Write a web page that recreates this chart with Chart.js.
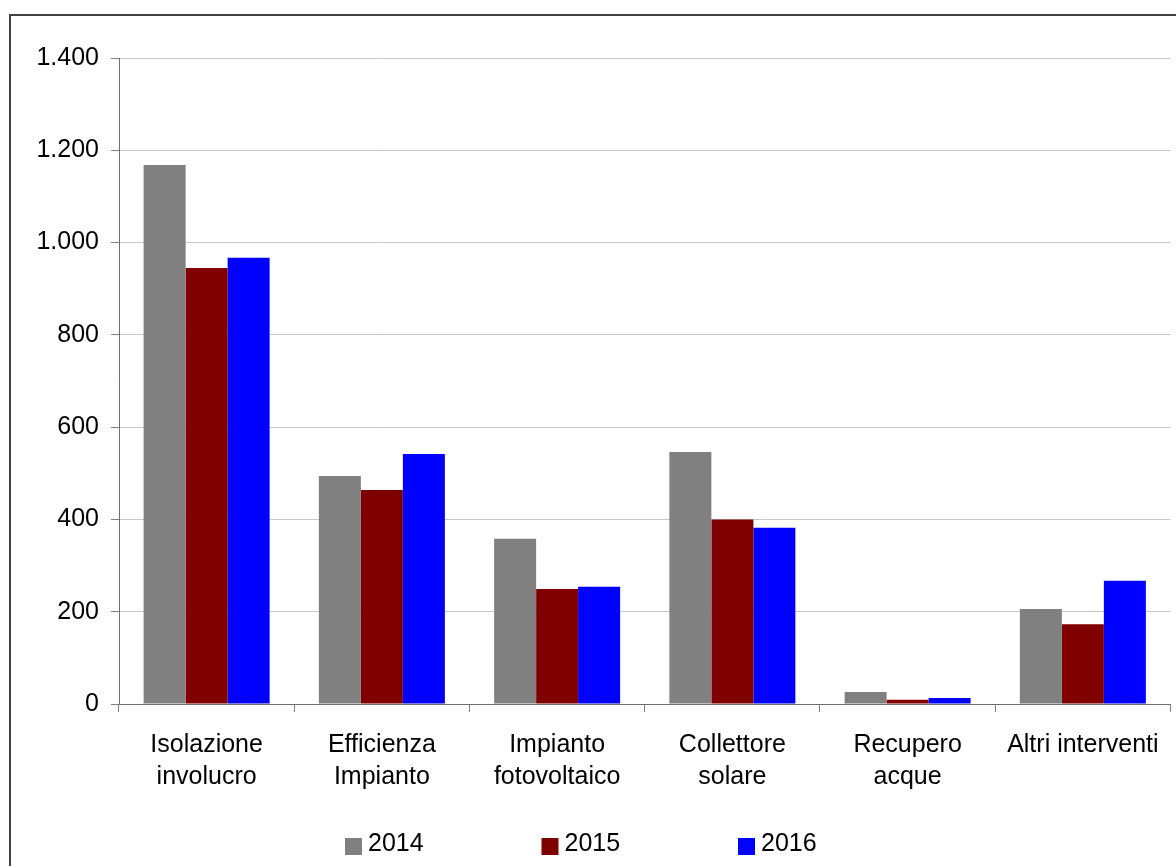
<!DOCTYPE html>
<html>
<head>
<meta charset="utf-8">
<script src="https://cdn.jsdelivr.net/npm/chart.js@4/dist/chart.umd.min.js"></script>
<style>
  html, body { margin: 0; padding: 0; background: #fff; }
  #wrap { width: 1176px; height: 866px; position: relative; }
</style>
</head>
<body>
<div id="wrap"><canvas id="chart" width="1176" height="866"></canvas></div>
<script>
// Categories (multi-line labels) and yearly series
const categories = [
  ['Isolazione', 'involucro'],
  ['Efficienza', 'Impianto'],
  ['Impianto', 'fotovoltaico'],
  ['Collettore', 'solare'],
  ['Recupero', 'acque'],
  ['Altri interventi']
];
const seriesNames = ['2014', '2015', '2016'];
const values2014 = [1168, 494, 358, 546, 26, 206];
const values2015 = [945, 464, 249, 400, 9, 173];
const values2016 = [967, 542, 254, 382, 13, 267];
const seriesColors = ['#808080', '#800000', '#0000FF'];
const yTickLabels = ['0', '200', '400', '600', '800', '1.000', '1.200', '1.400'];

const FONT = '"Liberation Sans", Arial, sans-serif';

// Outer frame of the chart
const framePlugin = {
  id: 'frame',
  beforeDraw(chart) {
    const ctx = chart.ctx;
    ctx.save();
    ctx.fillStyle = '#ffffff';
    ctx.fillRect(0, 0, chart.width, chart.height);
    ctx.strokeStyle = '#404040';
    ctx.lineWidth = 2;
    ctx.strokeRect(10, 15, chart.width + 40, chart.height + 40);
    ctx.restore();
  }
};

// Legend row under the category labels
const legendRow = {
  id: 'legendRow',
  afterDraw(chart) {
    const ctx = chart.ctx;
    ctx.save();
    ctx.font = '25px ' + FONT;
    ctx.textBaseline = 'middle';
    ctx.textAlign = 'left';
    chart.data.datasets.forEach((ds, i) => {
      const x = 345 + i * 196.5;
      ctx.fillStyle = ds.backgroundColor;
      ctx.fillRect(x, 838, 17, 17);
      ctx.fillStyle = '#000000';
      ctx.fillText(ds.label, x + 23, 844);
    });
    ctx.restore();
  }
};

const datasets = [values2014, values2015, values2016].map((vals, i) => ({
  label: seriesNames[i],
  data: vals,
  backgroundColor: seriesColors[i],
  borderWidth: 0,
  categoryPercentage: 0.719,
  barPercentage: 1.0
}));

new Chart(document.getElementById('chart'), {
  type: 'bar',
  data: { labels: categories, datasets },
  options: {
    responsive: false,
    devicePixelRatio: 1,
    animation: false,
    layout: { padding: { left: 0, top: 58, right: 5, bottom: 30 } },
    plugins: {
      legend: { display: false },
      tooltip: { enabled: false }
    },
    scales: {
      x: {
        offset: true,
        grid: {
          offset: true,
          drawOnChartArea: false,
          drawTicks: true,
          tickLength: 8,
          tickColor: '#808080'
        },
        border: { color: '#6e6e6e', width: 1 },
        ticks: {
          color: '#000000',
          padding: 17,
          maxRotation: 0,
          autoSkip: false,
          font: { family: FONT, size: 25, lineHeight: 1.27 }
        },
        afterFit(scale) { scale.height = 866 - 704 - 30; }
      },
      y: {
        min: 0,
        max: 1400,
        ticks: {
          stepSize: 200,
          color: '#000000',
          padding: 12,
          font: { family: FONT, size: 25 },
          callback: (v) => yTickLabels[Math.round(v / 200)]
        },
        grid: {
          color: '#c8c8c8',
          tickColor: '#808080',
          tickLength: 8,
          lineWidth: 1
        },
        border: { color: '#6e6e6e', width: 1 },
        afterFit(scale) { scale.width = 119; }
      }
    }
  },
  plugins: [framePlugin, legendRow]
});
</script>
</body>
</html>
